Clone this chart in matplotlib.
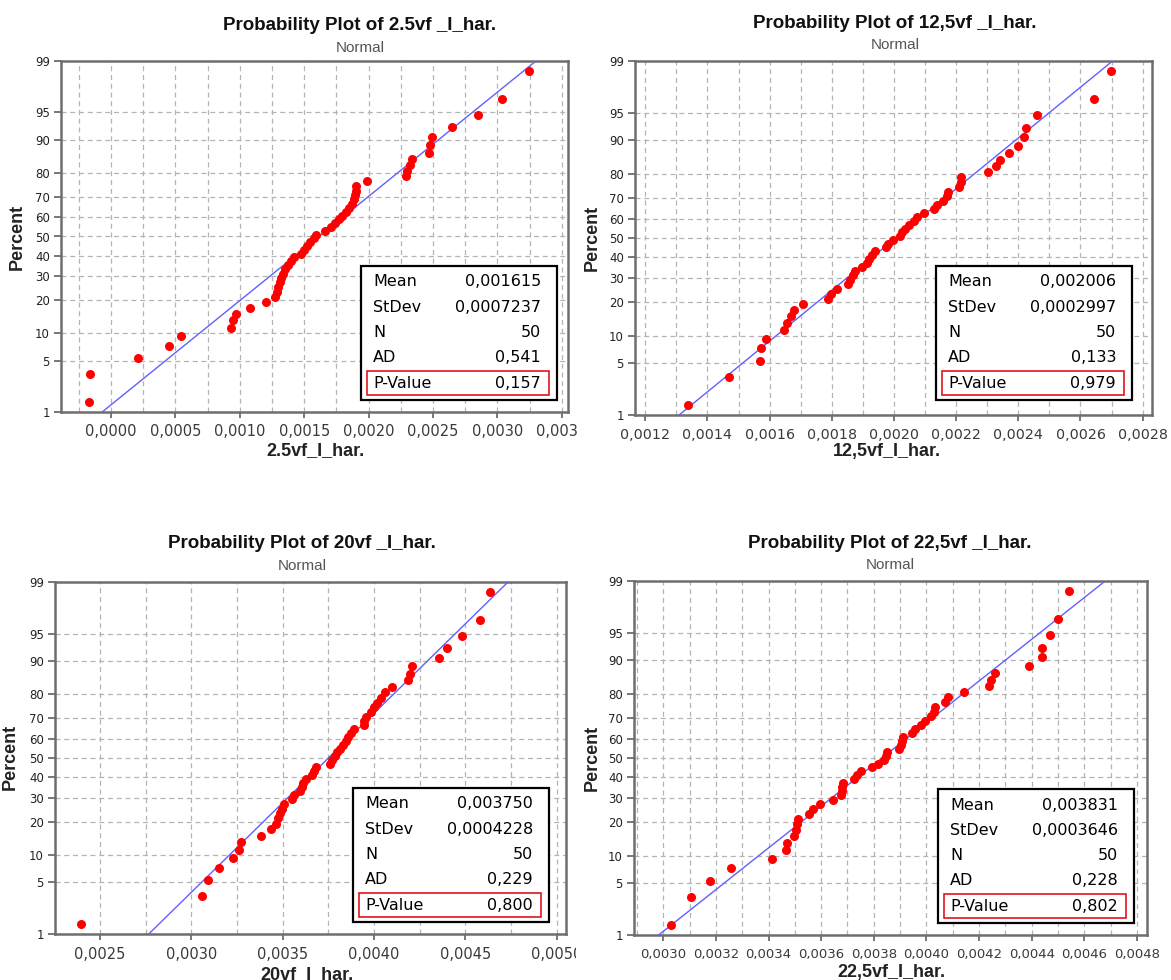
"""Normal probability plots (Minitab style) of four harmonic current series, 2x2 grid."""
from statistics import NormalDist
import numpy as np
import matplotlib
matplotlib.use('Agg')
import matplotlib.pyplot as plt
from matplotlib.patches import Rectangle
from matplotlib.ticker import FixedLocator, MultipleLocator, NullLocator, FuncFormatter
from matplotlib.transforms import Bbox, TransformedBbox

W, H = 1171, 980

vf2_5 = [-0.000167, -0.00016, 0.000207, 0.000453, 0.000545, 0.00093, 0.00095, 0.00097, 0.00108, 0.0012,
         0.001277, 0.001286, 0.001297, 0.001309, 0.00132, 0.001335, 0.001349, 0.001372, 0.0014, 0.00142,
         0.001478, 0.001498, 0.001521, 0.001544, 0.001573, 0.001593, 0.001659, 0.001708, 0.001737, 0.001774,
         0.001794, 0.001822, 0.00185, 0.00187, 0.00189, 0.001894, 0.0019, 0.001902, 0.001986, 0.002287,
         0.0023, 0.00232, 0.00234, 0.00247, 0.002477, 0.00249, 0.002646, 0.002847, 0.003033, 0.003243]
vf12_5 = [0.001339, 0.00147, 0.001569, 0.001572, 0.001588, 0.001647, 0.001656, 0.001668, 0.00168, 0.001708,
          0.001787, 0.001797, 0.001816, 0.001852, 0.00186, 0.001869, 0.001876, 0.001896, 0.001912, 0.00192,
          0.001928, 0.001938, 0.001974, 0.001982, 0.001997, 0.002021, 0.002027, 0.002037, 0.002047, 0.002063,
          0.002075, 0.002098, 0.002128, 0.00214, 0.002158, 0.00217, 0.002173, 0.002209, 0.002215, 0.002217,
          0.002304, 0.002328, 0.00234, 0.00237, 0.0024, 0.002417, 0.002426, 0.002461, 0.002643, 0.002697]
vf20 = [0.002395, 0.003057, 0.003093, 0.003152, 0.003225, 0.003259, 0.003269, 0.00338, 0.003437, 0.003461,
        0.003472, 0.003486, 0.003496, 0.003508, 0.003553, 0.003563, 0.003593, 0.003603, 0.003613, 0.003629,
        0.00366, 0.00367, 0.00368, 0.003761, 0.003771, 0.003785, 0.003795, 0.003816, 0.003832, 0.003846,
        0.00386, 0.003876, 0.003892, 0.003943, 0.003947, 0.003957, 0.003984, 0.004002, 0.004018, 0.004038,
        0.004058, 0.004099, 0.004184, 0.004196, 0.00421, 0.004356, 0.004399, 0.004484, 0.004581, 0.004635]
vf22_5 = [0.003028, 0.003104, 0.003176, 0.003257, 0.003412, 0.003468, 0.003471, 0.003497, 0.003503, 0.00351,
          0.003513, 0.003552, 0.00357, 0.003594, 0.003646, 0.003676, 0.003679, 0.003681, 0.003684, 0.003724,
          0.003735, 0.003752, 0.003794, 0.003816, 0.00384, 0.003847, 0.00385, 0.003896, 0.003903, 0.003908,
          0.00391, 0.003946, 0.003957, 0.003978, 0.003995, 0.004016, 0.004027, 0.004033, 0.004069, 0.004082,
          0.004142, 0.004238, 0.004245, 0.004259, 0.004391, 0.00444, 0.00444, 0.004468, 0.004498, 0.004543]

names = ['2.5vf _I_har.', '12,5vf _I_har.', '20vf _I_har.', '22,5vf _I_har.']
xlabels = ['2.5vf_I_har.', '12,5vf_I_har.', '20vf_I_har.', '22,5vf_I_har.']
means = [0.001615, 0.002006, 0.003750, 0.003831]
stdevs = [0.0007237, 0.0002997, 0.0004228, 0.0003646]
stat_labels = ['Mean', 'StDev', 'N', 'AD', 'P-Value']
stat_values = [['0,001615', '0,0007237', '50', '0,541', '0,157'],
               ['0,002006', '0,0002997', '50', '0,133', '0,979'],
               ['0,003750', '0,0004228', '50', '0,229', '0,800'],
               ['0,003831', '0,0003646', '50', '0,228', '0,802']]
pct_ticks = [1, 5, 10, 20, 30, 40, 50, 60, 70, 80, 90, 95, 99]

# layout, in pixels of the 1171x980 picture
panels = [
    dict(data=vf2_5, box=(61, 568, 61, 412), xlim=(-0.000388, 0.003548), step=0.0005, tsize=10.5,
         title=(360, 25, 48), ylab=(17, 237), xlab=(315, 451), leg=(361, 266), clip=578),
    dict(data=vf12_5, box=(635, 1152, 61, 415), xlim=(0.001167, 0.00283), step=0.0002, tsize=10.3,
         title=(895, 23, 45), ylab=(592, 238), xlab=(887, 451), leg=(936, 266), clip=None),
    dict(data=vf20, box=(55, 566, 582, 934), xlim=(0.002253, 0.005051), step=0.0005, tsize=10.5,
         title=(302, 543, 566), ylab=(10, 757), xlab=(307, 975), leg=(353, 788), clip=576),
    dict(data=vf22_5, box=(634, 1147, 581, 935), xlim=(0.002889, 0.004838), step=0.0002, tsize=9.5,
         title=(890, 543, 565), ylab=(592, 758), xlab=(891, 972), leg=(938, 789), clip=None),
]

nd = NormalDist()
_ppf = np.vectorize(nd.inv_cdf, otypes=[float])
_cdf = np.vectorize(nd.cdf, otypes=[float])

def fwd(p):
    p = np.clip(np.asarray(p, dtype=float) / 100., 1e-9, 1 - 1e-9)
    return _ppf(p)

def inv(z):
    return _cdf(np.asarray(z, dtype=float)) * 100.

def fx(px):
    return px / W

def fy(py):
    return 1 - py / H

comma_fmt = FuncFormatter(lambda v, pos: '{:.4f}'.format(v).replace('.', ',').replace('-0,0000', '0,0000'))

fig = plt.figure(figsize=(W / 100, H / 100), dpi=100)
fig.patch.set_facecolor('white')

for k, pan in enumerate(panels):
    l, r, t, b = pan['box']
    ax = fig.add_axes([fx(l), fy(b), (r - l) / W, (b - t) / H])
    ax.set_yscale('function', functions=(fwd, inv))
    ax.set_ylim(1, 99)
    ax.set_xlim(*pan['xlim'])

    x = np.sort(np.asarray(pan['data']))
    n = len(x)
    pct = (np.arange(1, n + 1) - 0.3) / (n + 0.4) * 100  # median ranks
    # fitted normal line
    z_end = np.array([-2.8, 2.8])
    ax.plot(means[k] + stdevs[k] * z_end, inv(z_end), color='#6060ff', lw=1.0, zorder=3)
    ax.plot(x, pct, 'o', color='#ff0000', ms=6.5, mec='none', zorder=4)

    ax.yaxis.set_major_locator(FixedLocator(pct_ticks))
    ax.yaxis.set_minor_locator(NullLocator())
    ax.set_yticklabels([str(v) for v in pct_ticks])
    ax.xaxis.set_major_locator(MultipleLocator(pan['step']))
    ax.xaxis.set_minor_locator(MultipleLocator(pan['step'] / 2))
    ax.xaxis.set_major_formatter(comma_fmt)

    ax.grid(which='both', axis='x', color='#b4b4b4', lw=0.9, ls=(0, (4, 3)))
    ax.grid(which='major', axis='y', color='#b4b4b4', lw=0.9, ls=(0, (4, 3)))
    ax.set_axisbelow(True)
    ax.tick_params(axis='x', which='major', direction='out', length=4, width=1.2, color='#606060',
                   labelsize=pan['tsize'], labelcolor='#3a3a3a', pad=5)
    ax.tick_params(axis='x', which='minor', length=0)
    ax.tick_params(axis='y', direction='out', length=5, width=1.2, color='#606060',
                   labelsize=8.5, labelcolor='#222222', pad=3)
    for lab in ax.get_yticklabels():
        lab.set_family('DejaVu Sans')
    for sp in ax.spines.values():
        sp.set_color('#6e6e6e')
        sp.set_linewidth(1.8)

    fig.canvas.draw()
    if pan['clip'] is not None:
        cb = TransformedBbox(Bbox([[0, 0], [fx(pan['clip']), 1]]), fig.transFigure)
        for lab in ax.get_xticklabels():
            lab.set_clip_box(cb)
            lab.set_clip_on(True)

    # titles and axis labels
    tx, ty, sy = pan['title']
    fig.text(fx(tx), fy(ty), 'Probability Plot of ' + names[k], ha='center', va='center',
             fontsize=13.5, fontweight='bold', family='Liberation Sans', color='#111111')
    fig.text(fx(tx), fy(sy), 'Normal', ha='center', va='center', fontsize=11,
             family='Liberation Sans', color='#555555')
    fig.text(fx(pan['ylab'][0]), fy(pan['ylab'][1]), 'Percent', rotation=90, ha='center', va='center',
             fontsize=13, fontweight='bold', family='Liberation Sans', color='#222222')
    fig.text(fx(pan['xlab'][0]), fy(pan['xlab'][1]), xlabels[k], ha='center', va='center',
             fontsize=13, fontweight='bold', family='Liberation Sans', color='#222222')

    # statistics box
    L, T = pan['leg']
    fig.patches.append(Rectangle((fx(L), fy(T + 134)), 196 / W, 134 / H, transform=fig.transFigure,
                                 facecolor='white', edgecolor='black', lw=1.6, zorder=5))
    fig.patches.append(Rectangle((fx(L + 6), fy(T + 129)), 182 / W, 24 / H, transform=fig.transFigure,
                                 facecolor='none', edgecolor='#e0141e', lw=1.2, zorder=6))
    for j, (lab, val) in enumerate(zip(stat_labels, stat_values[k])):
        yy = fy(T + 16 + j * 25.3)
        fig.text(fx(L + 12), yy, lab, ha='left', va='center', fontsize=11.5, family='DejaVu Sans',
                 color='black', zorder=7)
        fig.text(fx(L + 180), yy, val, ha='right', va='center', fontsize=11.5, family='DejaVu Sans',
                 color='black', zorder=7)

fig.savefig('out.png', dpi=100, facecolor='white')
